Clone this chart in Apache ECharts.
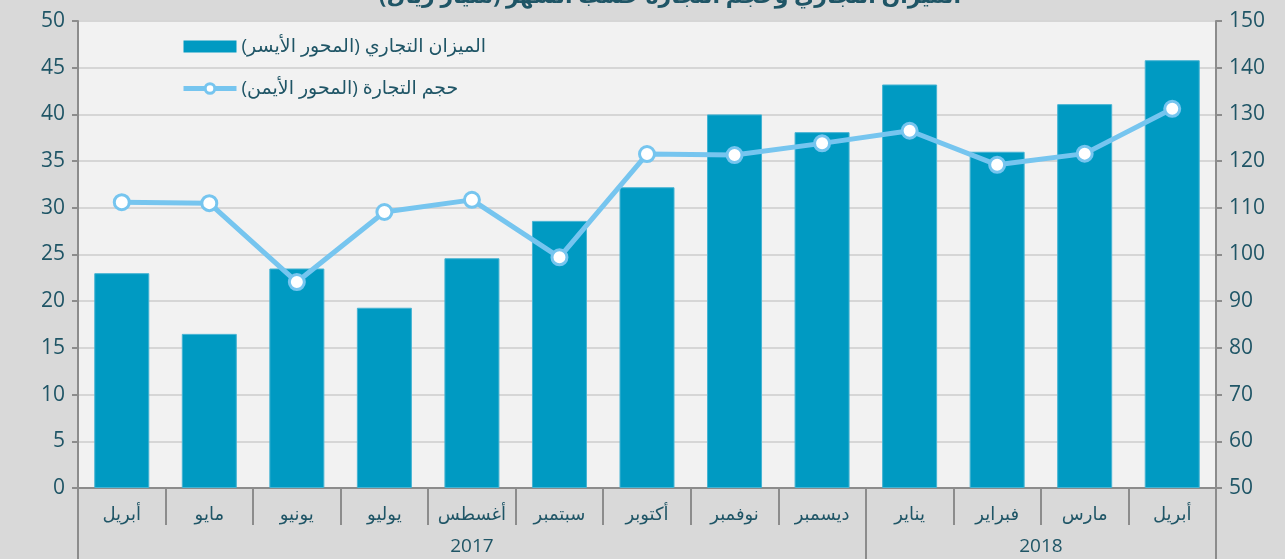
<!DOCTYPE html>
<html>
<head>
<meta charset="utf-8">
<script src="https://cdn.jsdelivr.net/npm/echarts@6/dist/echarts.min.js"></script>
<style>
  html, body { margin: 0; padding: 0; background: #d9d9d9; }
  #main { width: 1285px; height: 559px; }
</style>
</head>
<body>
<div id="main"></div>
<script>
// months (Apr 2017 - Apr 2018)
var months = ["أبريل", "مايو", "يونيو", "يوليو", "أغسطس", "سبتمبر", "أكتوبر", "نوفمبر", "ديسمبر", "يناير", "فبراير", "مارس", "أبريل"];
// trade balance, left axis
var tradeBalance = [23.0, 16.5, 23.5, 19.3, 24.6, 28.6, 32.2, 40.0, 38.1, 43.2, 36.0, 41.1, 45.8];
// trade volume, right axis
var tradeVolume = [111.2, 111.0, 94.1, 109.1, 111.7, 99.4, 121.5, 121.3, 123.8, 126.5, 119.2, 121.6, 131.2];
// years row: label positions (in category units) and separators
var yearLabels = ["2017", "2018"];
var yearCenters = [4.5, 11];
var yearBreaks = [0, 9, 13];

var textColor = "#1f5566";
var font = "'Open Sans', 'DejaVu Sans', sans-serif";

var myChart = echarts.init(document.getElementById("main"));
var option = {
  backgroundColor: "#d9d9d9",
  title: {
    text: "الميزان التجاري وحجم التجارة حسب الشهر (مليار ريال)",
    left: 374,
    top: -19,
    textStyle: { color: textColor, fontSize: 22, fontWeight: "bold", fontFamily: font }
  },
  legend: {
    orient: "vertical",
    left: 176,
    top: 32,
    itemGap: 23,
    itemWidth: 53,
    itemHeight: 12,
    textStyle: { color: textColor, fontSize: 19, fontFamily: font },
    data: [
      {
        name: "الميزان التجاري (المحور الأيسر)", icon: "rect",
        itemStyle: { color: "#009ac2", borderWidth: 0 }
      },
      {
        name: "حجم التجارة (المحور الأيمن)",
        lineStyle: { width: 5, color: "#76c5ef" },
        itemStyle: { color: "#ffffff", borderColor: "#76c5ef", borderWidth: 3 }
      }
    ]
  },
  grid: {
    left: 78, right: 69, top: 21, bottom: 71,
    show: true, backgroundColor: "#f2f2f2", borderWidth: 0
  },
  xAxis: [
    {
      type: "category",
      data: months,
      axisLine: { lineStyle: { color: "#8c8c8c", width: 2 } },
      axisTick: { show: true, interval: 0, length: 37, lineStyle: { color: "#8c8c8c", width: 2 } },
      axisLabel: { interval: 0, color: textColor, fontSize: 18, margin: 18, fontFamily: font },
      splitLine: { show: false }
    },
    {
      type: "value",
      position: "bottom",
      min: 0,
      max: 13,
      axisLine: { show: false },
      axisTick: {
        show: true, length: 80, customValues: yearBreaks,
        lineStyle: { color: "#8c8c8c", width: 2 }
      },
      axisLabel: {
        color: textColor, fontSize: 19, margin: 49, fontFamily: font,
        customValues: yearCenters,
        formatter: function (v) {
          var i = yearCenters.indexOf(v);
          return i >= 0 ? yearLabels[i] : "";
        }
      },
      splitLine: { show: false }
    }
  ],
  yAxis: [
    {
      type: "value",
      min: 0, max: 50, interval: 5,
      axisLine: { show: true, lineStyle: { color: "#8c8c8c", width: 2 } },
      axisTick: { show: true, length: 6, lineStyle: { color: "#8c8c8c", width: 2 } },
      axisLabel: { color: textColor, fontSize: 21, margin: 13, fontFamily: font },
      splitLine: { lineStyle: { color: "#d6d6d6", width: 2 } }
    },
    {
      type: "value",
      min: 50, max: 150, interval: 10,
      axisLine: { show: true, lineStyle: { color: "#8c8c8c", width: 2 } },
      axisTick: { show: true, length: 6, lineStyle: { color: "#8c8c8c", width: 2 } },
      axisLabel: { color: textColor, fontSize: 21, margin: 13, fontFamily: font },
      splitLine: { show: false }
    }
  ],
  series: [
    {
      name: "الميزان التجاري (المحور الأيسر)",
      type: "bar",
      xAxisIndex: 0,
      yAxisIndex: 0,
      barWidth: 55,
      itemStyle: { color: "#009ac2", borderColor: "#45b3d3", borderWidth: 1 },
      data: tradeBalance
    },
    {
      name: "حجم التجارة (المحور الأيمن)",
      type: "line",
      xAxisIndex: 0,
      yAxisIndex: 1,
      symbol: "circle",
      symbolSize: 15,
      lineStyle: { color: "#76c5ef", width: 5 },
      itemStyle: { color: "#ffffff", borderColor: "#76c5ef", borderWidth: 3 },
      data: tradeVolume
    }
  ]
};
myChart.setOption(option);
</script>
</body>
</html>
